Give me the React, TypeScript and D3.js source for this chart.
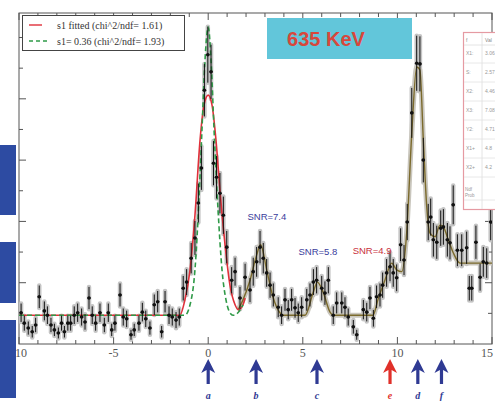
import React from 'react';
import * as d3 from 'd3';

const W = 495;
const H = 406;
const FRAME = { left: 19, right: 492, top: 13, bottom: 344 };

// Measured spectrum: bin centre and counts
const dataX = [
  -9.89, -9.72, -9.51, -9.3, -9.12, -8.93, -8.66, -8.5, -8.31, -8.13, -7.92, -7.75, -7.6, -7.42, -7.27,
  -7.08, -6.9, -6.69, -6.51, -6.3, -6.13, -5.95, -5.72, -5.49, -5.28, -5.1, -4.93, -4.66, -4.49, -4.31,
  -4.08, -3.91, -3.66, -3.48, -3.3, -3.08, -2.85, -2.67, -2.46, -2.28, -2.07, -1.9, -1.7, -1.53, -1.32,
  -1.14, -0.9, -0.7, -0.52, -0.36, -0.2, -0.02, 0.15, 0.28, 0.44, 0.62, 0.8, 0.98, 1.24, 1.42,
  1.68, 1.95, 2.21, 2.38, 2.56, 2.74, 2.91, 3.09, 3.27, 3.44, 3.7, 3.88, 4.06, 4.23, 4.41,
  4.59, 4.76, 4.94, 5.21, 5.38, 5.56, 5.73, 6.0, 6.17, 6.35, 6.61, 6.79, 7.06, 7.23, 7.4,
  7.67, 7.85, 8.2, 8.38, 8.55, 8.73, 8.9, 9.08, 9.22, 9.43, 9.61, 9.78, 9.96, 10.17, 10.35,
  10.52, 10.76, 11.02, 11.19, 11.37, 11.63, 11.76, 11.9, 12.08, 12.29, 12.43, 12.64, 12.78, 12.95, 13.17,
  13.4, 13.66, 13.8, 13.93, 14.15, 14.37, 14.54, 14.72, 14.93,
];
const dataY = [
  51, 34, 26, 20, 31, 77, 54, 47, 31, 23, 18, 34, 20, 34, 34,
  47, 51, 44, 36, 75, 47, 34, 51, 31, 51, 23, 34, 80, 44, 41,
  15, 23, 34, 52, 41, 26, 64, 69, 20, 69, 47, 44, 39, 44, 91,
  101, 140, 173, 230, 287, 414, 472, 444, 295, 272, 246, 210, 158, 104, 118,
  75, 109, 88, 118, 134, 158, 140, 116, 96, 80, 60, 47, 72, 56, 72,
  59, 51, 60, 72, 80, 101, 104, 91, 83, 104, 47, 67, 67, 60, 44,
  28, 15, 56, 52, 75, 42, 77, 80, 96, 116, 126, 116, 108, 162, 137,
  199, 377, 458, 457, 300, 199, 207, 170, 166, 189, 191, 170, 165, 227, 153,
  153, 157, 91, 91, 166, 109, 134, 132, 199,
];

// Combined fit over all peaks
const fitX = [1.57, 1.84, 2.21, 2.56, 2.77, 3.09, 3.42, 3.79, 3.95, 5.12, 5.54, 5.77, 6.07, 6.44, 6.6,
  8.71, 8.97, 9.34, 9.7, 9.96, 10.23, 10.49, 10.76, 11.02, 11.19, 11.37, 11.55, 11.72, 11.99, 12.25,
  12.43, 12.69, 12.95, 13.31, 15];
const fitY = [55, 72, 104, 145, 162, 121, 77, 51, 47, 47, 83, 101, 85, 52, 47,
  47, 72, 104, 132, 121, 118, 181, 344, 452, 447, 333, 224, 181, 175, 194,
  191, 170, 149, 132, 132];

// s1 fitted (chi^2/ndf = 1.61)
const s1FitX = [-10, -1.5, -1.23, -0.96, -0.7, -0.43, -0.22, 0, 0.2, 0.41, 0.62, 0.89, 1.15, 1.42, 1.6, 1.84, 1.95];
const s1FitY = [47, 47, 72, 121, 210, 333, 390, 406, 390, 333, 251, 162, 96, 64, 56, 64, 75];

// s1 = 0.36 (chi^2/ndf = 1.93)
const s1FixX = [-10, -1.23, -0.96, -0.7, -0.49, -0.33, -0.17, 0, 0.15, 0.31, 0.52, 0.73, 0.94, 1.15, 1.31, 1.57, 1.84];
const s1FixY = [47, 47, 64, 121, 235, 349, 463, 517, 463, 349, 219, 121, 72, 51, 47, 51, 64];

// Peak markers
const peakNames = ['a', 'b', 'c', 'e', 'd', 'f'];
const peakPos = [0, 2.53, 5.75, 9.61, 11.08, 12.33];
const flaggedPeak = 'e';

// Significance annotations
const snrText = ['SNR=7.4', 'SNR=5.8', 'SNR=4.9'];
const snrX = [3.1, 5.8, 8.66];
const snrY = [202, 145, 147];
const snrFlagged = [false, false, true];

const xTickLabels = [-10, -5, 0, 5, 10, 15];
const legendLabels = ['s1 fitted (chi^2/ndf= 1.61)', 's1= 0.36 (chi^2/ndf= 1.93)'];
const energyLabel = '635 KeV';

// Parameter box rows
const parNames = ['X1:', 'S:', 'X2:', 'X3:', 'Y2:', 'X1+', 'X2+'];
const parValues = ['3.06', '2.57', '4.46', '7.08', '4.71', '4.8', '4.2'];

const BLUE = '#2f3a93';
const RED = '#e0302a';

export default function App() {
  const x = d3.scaleLinear().domain([-10, 15]).range([FRAME.left, FRAME.right]);
  const y = d3.scaleLinear().domain([0, 540]).range([FRAME.bottom, FRAME.top]);
  const line = d3
    .line<[number, number]>()
    .x((d) => x(d[0]))
    .y((d) => y(d[1]))
    .curve(d3.curveMonotoneX);
  const zip = (a: number[], b: number[]) => a.map((v, i) => [v, b[i]] as [number, number]);

  const minorX = d3.range(-10, 15.01, 1);
  const majorX = d3.range(-10, 15.01, 5);
  const minorY = d3.range(50, 540, 50);
  const majorY = d3.range(100, 540, 100);

  // Poisson-style uncertainty on each bin
  const points = dataX.map((v, i) => {
    const c = dataY[i];
    const err = 2.1 * Math.sqrt(Math.max(c, 8));
    return { x: v, c, err };
  });

  return (
    <svg
      width={W}
      height={H}
      style={{ position: 'absolute', left: 0, top: 0, background: '#fff' }}
      fontFamily="'Liberation Serif', serif"
    >
      <rect width={W} height={H} fill="#fff" />
      <defs>
        <clipPath id="plotClip">
          <rect x={FRAME.left} y={FRAME.top} width={FRAME.right - FRAME.left} height={FRAME.bottom - FRAME.top} />
        </clipPath>
      </defs>

      {/* frame */}
      <rect
        x={FRAME.left}
        y={FRAME.top}
        width={FRAME.right - FRAME.left}
        height={FRAME.bottom - FRAME.top}
        fill="none"
        stroke="#555"
        strokeWidth={1}
      />
      {/* x ticks (bottom and top, pointing inward) */}
      {minorX.map((t) => {
        const major = majorX.includes(t);
        const len = major ? 7 : 4;
        return (
          <g key={'xt' + t} stroke="#555" strokeWidth={1}>
            <line x1={x(t)} x2={x(t)} y1={FRAME.bottom} y2={FRAME.bottom - len} />
            <line x1={x(t)} x2={x(t)} y1={FRAME.top} y2={FRAME.top + len} />
          </g>
        );
      })}
      {/* y ticks (left and right) */}
      {minorY.map((t) => {
        const major = majorY.includes(t);
        const len = major ? 7 : 4;
        return (
          <g key={'yt' + t} stroke="#555" strokeWidth={1}>
            <line x1={FRAME.left} x2={FRAME.left + len} y1={y(t)} y2={y(t)} />
            <line x1={FRAME.right} x2={FRAME.right - len} y1={y(t)} y2={y(t)} />
          </g>
        );
      })}
      {xTickLabels.map((t) => {
        const px = Math.min(x(t), W - 8);
        return (
          <text key={'xl' + t} x={px} y={357} textAnchor="middle" fontSize={12} fill="#555">
            {t}
          </text>
        );
      })}

      <g clipPath="url(#plotClip)">
        {/* error bar halos */}
        {points.map((p, i) => (
          <line
            key={'h' + i}
            x1={x(p.x)}
            x2={x(p.x)}
            y1={y(p.c - p.err)}
            y2={y(p.c + p.err)}
            stroke="#c4c4c4"
            strokeWidth={4.5}
            strokeLinecap="round"
          />
        ))}

        {/* fitted curves */}
        <path d={line(zip(fitX, fitY)) || ''} fill="none" stroke="#c9c6bd" strokeWidth={5} />
        <path d={line(zip(fitX, fitY)) || ''} fill="none" stroke="#7b6a2c" strokeWidth={1.4} />
        <path d={line(zip(s1FitX, s1FitY)) || ''} fill="none" stroke="#e0303a" strokeWidth={1.6} />
        <path
          d={line(zip(s1FixX, s1FixY)) || ''}
          fill="none"
          stroke="#2f9a48"
          strokeWidth={1.6}
          strokeDasharray="5,3"
        />

        {/* data points with error bars */}
        {points.map((p, i) => (
          <g key={'p' + i} stroke="#111" strokeWidth={1}>
            <line x1={x(p.x)} x2={x(p.x)} y1={y(p.c - p.err)} y2={y(p.c + p.err)} />
            <line x1={x(p.x - 0.09)} x2={x(p.x + 0.09)} y1={y(p.c)} y2={y(p.c)} />
            <circle cx={x(p.x)} cy={y(p.c)} r={1.8} fill="#111" stroke="none" />
          </g>
        ))}
      </g>

      {/* legend */}
      <rect x={22.5} y={15.5} width={162} height={35} fill="#fff" stroke="#444" strokeWidth={1} />
      <line x1={29} x2={42} y1={25} y2={25} stroke="#e0303a" strokeWidth={1.4} />
      <line x1={29} x2={48} y1={41} y2={41} stroke="#2f9a48" strokeWidth={1.4} strokeDasharray="4,3" />
      <text x={57} y={28.5} fontSize={10} fill="#333">
        {legendLabels[0]}
      </text>
      <text x={57} y={44.5} fontSize={10} fill="#333">
        {legendLabels[1]}
      </text>

      {/* energy badge */}
      <rect x={267} y={18} width={145} height={41} fill="#62c6da" />
      <text
        x={326}
        y={46}
        textAnchor="middle"
        fontSize={20}
        fontWeight="bold"
        fontFamily="'Liberation Sans', Arial, sans-serif"
        fill="#d8473c"
      >
        {energyLabel}
      </text>

      {/* parameter box */}
      <g fontFamily="'Liberation Sans', sans-serif">
        <rect x={463.5} y={32.5} width={40} height={177} fill="#fff" stroke="#e59aa2" strokeWidth={1.2} />
        <line x1={482} x2={482} y1={33} y2={209} stroke="#ddd" strokeWidth={0.8} />
        <text x={466} y={42} fontSize={5} fill="#888">f</text>
        <text x={485} y={42} fontSize={5} fill="#888">Val</text>
        <line x1={464} x2={495} y1={45} y2={45} stroke="#ddd" strokeWidth={0.8} />
        {parNames.map((n, i) => (
          <g key={'par' + i}>
            <text x={466} y={55 + i * 19} fontSize={5} fill="#999">
              {n}
            </text>
            <text x={485} y={55 + i * 19} fontSize={5} fill="#999">
              {parValues[i]}
            </text>
            <line x1={464} x2={495} y1={63 + i * 19} y2={63 + i * 19} stroke="#e2e2e2" strokeWidth={0.8} />
          </g>
        ))}
        <text x={465} y={191} fontSize={4.5} fill="#999">Ndf</text>
        <text x={465} y={197} fontSize={4.5} fill="#999">Prob</text>
        <line x1={464} x2={495} y1={200} y2={200} stroke="#e2e2e2" strokeWidth={0.8} />
      </g>

      {/* SNR annotations */}
      {snrText.map((t, i) => (
        <text
          key={'snr' + i}
          x={x(snrX[i])}
          y={y(snrY[i])}
          textAnchor="middle"
          fontSize={9.5}
          fontFamily="'Liberation Sans', sans-serif"
          fill={snrFlagged[i] ? '#c8303a' : '#3a3c9c'}
        >
          {t}
        </text>
      ))}

      {/* peak arrows */}
      {peakNames.map((n, i) => {
        const cx = x(peakPos[i]);
        const col = n === flaggedPeak ? RED : BLUE;
        const tip = 359;
        const base = 373;
        const bottom = 384;
        const d = `M${cx},${tip} L${cx + 7},${base} L${cx + 1.6},${base - 3} L${cx + 1.6},${bottom} L${cx - 1.6},${bottom} L${cx - 1.6},${base - 3} L${cx - 7},${base} Z`;
        return (
          <g key={'arr' + n}>
            <path d={d} fill={col} />
            <text
              x={cx}
              y={399}
              textAnchor="middle"
              fontSize={10}
              fontStyle="italic"
              fontWeight="bold"
              fill={col}
            >
              {n}
            </text>
          </g>
        );
      })}

      {/* side bars */}
      <rect x={0} y={145} width={16} height={70} fill="#2d4ba2" />
      <rect x={0} y={242} width={16} height={61} fill="#2d4ba2" />
      <rect x={0} y={320} width={16} height={78} fill="#2d4ba2" />
    </svg>
  );
}
